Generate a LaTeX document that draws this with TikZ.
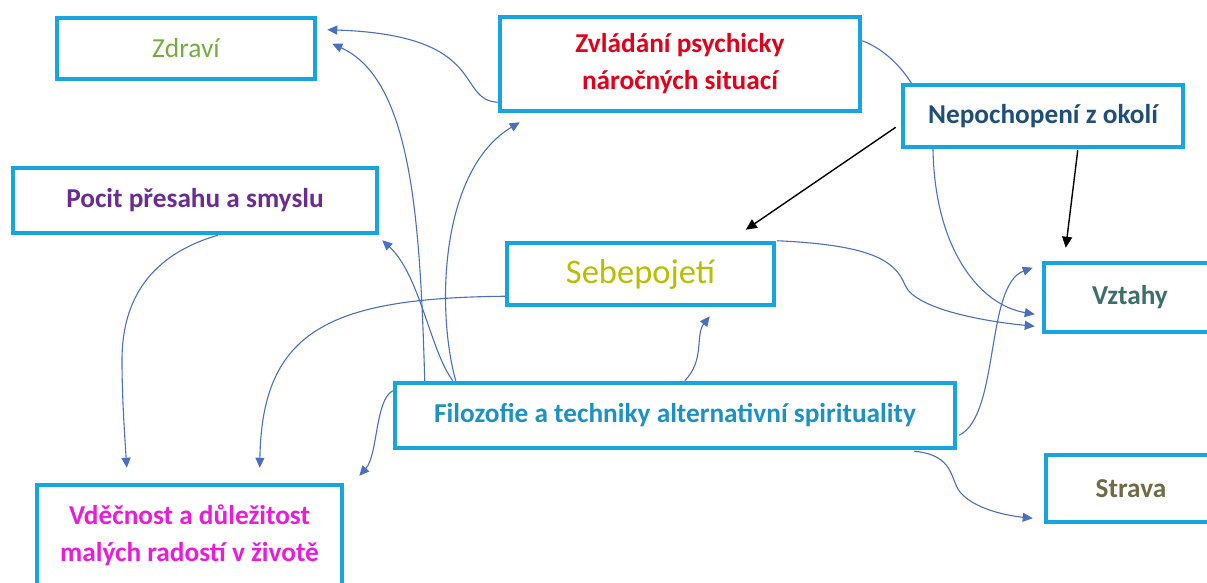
\documentclass[tikz,border=0pt]{standalone}
\usepackage{fontspec}
\setmainfont{Carlito}
\usetikzlibrary{arrows.meta,calc,backgrounds}
\definecolor{boxc}{HTML}{17A5E0}
\definecolor{arrc}{HTML}{4A6FC0}
\definecolor{czd}{HTML}{76AD3F}
\definecolor{czv}{HTML}{E2001A}
\definecolor{cnep}{HTML}{1F4E79}
\definecolor{cpoc}{HTML}{6A2C91}
\definecolor{cseb}{HTML}{B8BE00}
\definecolor{cvzt}{HTML}{3E6E6C}
\definecolor{cfil}{HTML}{1B91C4}
\definecolor{cstr}{HTML}{6F6B47}
\definecolor{cvde}{HTML}{E81CD9}
\begin{document}
\begin{tikzpicture}[x=1pt,y=-1pt,
  box/.style={draw=boxc, line width=4.5pt, fill=white, inner sep=0pt, align=center,
    font=\fontsize{27.3}{37}\selectfont\bfseries},
  conn/.style={draw=arrc, line width=1.1pt, -{Triangle[length=10pt,width=9pt]}},
  blk/.style={draw=black, line width=1.4pt, -{Triangle[length=11pt,width=10pt]}}]
\useasboundingbox (0,0) rectangle (1207,583);

\node[box, minimum width=258pt, minimum height=61pt, text=czd,
  font=\fontsize{27.5}{37}\selectfont] (zd) at (186,48.5) {Zdraví};
\node[box, minimum width=360pt, minimum height=94pt, text=czv] (zv) at (680,64) {Zvládání psychicky\\náročných situací};
\node[box, minimum width=280pt, minimum height=62pt, text=cnep] (nep) at (1043,116) {Nepochopení z okolí};
\node[box, minimum width=364pt, minimum height=65pt, text=cpoc] (poc) at (195,200.5) {Pocit přesahu a smyslu};
\node[box, minimum width=267pt, minimum height=62pt, text=cseb,
  font=\fontsize{34.5}{37}\selectfont] (seb) at (640.5,274) {Sebepojetí};
\node[box, minimum width=172pt, minimum height=69pt, text=cvzt] (vzt) at (1130,297.5) {Vztahy};
\node[box, minimum width=560pt, minimum height=65pt, text=cfil] (fil) at (675,415.5) {Filozofie a techniky alternativní spirituality};
\node[box, minimum width=170pt, minimum height=67pt, text=cstr] (str) at (1131,488.5) {Strava};
\node[box, minimum width=305pt, minimum height=100pt, text=cvde] (vde) at (189.5,535) {Vděčnost a důležitost\\malých radostí v životě};

\begin{pgfonlayer}{background}
% Zvladani -> Zdravi
\draw[conn] ($(zv.south west)+(0,-11)$) .. controls (455,100) and (490,35) .. ($(zd.north east)+(10,14)$);
% Filozofie -> Zdravi
\draw[conn] ($(fil.north west)+(32,0)$) .. controls (420,220) and (412,80) .. ($(zd.north east)+(15,28)$);
% Filozofie -> Pocit
\draw[conn] ($(fil.north west)+(60,0)$) .. controls (430,350) and (420,275) .. ($(poc.south east)+(3,5)$);
% Filozofie -> Zvladani
\draw[conn] ($(fil.north west)+(63,0)$) .. controls (436,310) and (440,170) .. ($(zv.south west)+(22,9)$);
% Pocit -> Vdecnost
\draw[conn] ($(poc.south west)+(207,0)$) .. controls (150,255) and (122,300) .. (122,360) .. controls (122,400) and (125,440) .. ($(vde.north west)+(92,-15)$);
% Sebepojeti -> Vdecnost
\draw[conn] ($(seb.south west)+(0,-11)$) .. controls (330,298) and (262,330) .. ($(vde.north west)+(225,-15)$);
% Filozofie -> Vdecnost
\draw[conn] ($(fil.north west)+(0,10)$) .. controls (375,400) and (378,455) .. ($(vde.north east)+(15,-7)$);
% Filozofie -> Sebepojeti
\draw[conn] ($(fil.north west)+(292,0)$) .. controls (705,360) and (695,335) .. ($(seb.south west)+(205,9)$);
% Sebepojeti -> Vztahy
\draw[conn] ($(seb.north east)+(1,0)$) .. controls (870,245) and (895,260) .. (905,285) .. controls (915,310) and (990,322) .. ($(vzt.south west)+(-7,-8)$);
% Zvladani -> Vztahy (behind Nepochopeni)
\draw[conn] ($(zv.north east)+(0,26)$) .. controls (900,55) and (930,100) .. (933,150) .. controls (935,250) and (980,305) .. ($(vzt.south west)+(-7,-20)$);
% Filozofie -> Vztahy
\draw[conn] ($(fil.south east)+(2,-15)$) .. controls (1000,415) and (985,285) .. ($(vzt.north west)+(-9,7)$);
% Filozofie -> Strava
\draw[conn] ($(fil.south east)+(-43,1)$) .. controls (955,455) and (950,480) .. (960,492) .. controls (975,510) and (1010,516) .. ($(str.south west)+(-11,-6)$);
\end{pgfonlayer}

% black arrows
\draw[blk] ($(nep.south west)+(-5,-22)$) -- ($(seb.north west)+(241,-11)$);
\draw[blk] ($(nep.south west)+(177,1)$) -- ($(vzt.north west)+(24,-13)$);
\end{tikzpicture}
\end{document}
